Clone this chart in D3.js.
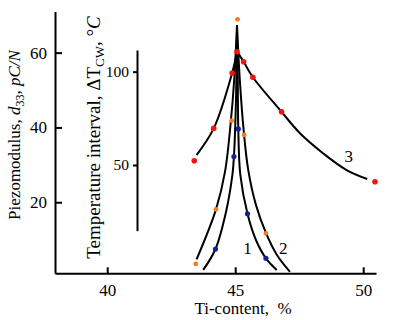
<!DOCTYPE html>
<html>
<head>
<meta charset="utf-8">
<script src="https://cdn.jsdelivr.net/npm/d3@7"></script>
<style>
  body { margin: 0; background: #fff; }
  text { font-family: "Liberation Serif", "Times New Roman", serif; fill: #000; }
</style>
</head>
<body>
<div id="chart"></div>
<script>
// tick values
const xTicks = [40, 45, 50];
const d33Ticks = [20, 40, 60];
const dtTicks = [50, 100];

// measured points (Ti %, value)
const orangeTi = [43.46, 44.25, 44.86, 45.09, 45.35, 46.20];
const orangeD33 = [3.5, 18.1, 41.8, 68.9, 38.0, 11.7];
const blueTi = [44.23, 44.95, 45.12, 45.48, 46.20];
const blueD33 = [7.5, 32.2, 39.6, 16.9, 5.0];
const redTi = [43.40, 44.16, 44.88, 45.07, 45.33, 45.69, 46.81, 50.46];
const redDT = [52.3, 69.6, 99.3, 110.7, 105.3, 97.0, 78.5, 41.0];

// fitted curves, left and right branch each (Ti %, value)
const curve1Left = [[43.75, 1.9], [44.23, 7.5], [44.64, 17.4], [44.89, 27.3], [44.95, 32.2], [45.03, 47.3], [45.07, 66.6]];
const curve1Right = [[45.07, 66.6], [45.10, 52.7], [45.12, 39.6], [45.20, 27.3], [45.48, 16.9], [45.81, 9.9], [46.20, 5.0], [46.62, 1.9]];
const curve2Left = [[43.49, 4.7], [44.25, 18.1], [44.60, 28.1], [44.83, 41.7], [44.96, 52.7], [45.07, 67.4]];
const curve2Right = [[45.07, 67.4], [45.18, 52.7], [45.34, 38.5], [45.51, 28.6], [45.81, 19.3], [46.20, 11.8], [46.63, 5.9], [47.14, 1.4]];
const curve3Left = [[43.49, 55.3], [44.16, 69.6], [44.88, 99.3], [45.07, 110.7]];
const curve3Right = [[45.07, 110.7], [45.33, 105.3], [45.69, 97.0], [46.81, 78.5], [47.53, 67.0], [48.44, 56.2], [49.35, 47.3], [50.16, 42.5]];

const curveLabels = [["1", 45.48, 6.2], ["2", 46.88, 6.2], ["3", 49.44, 51.6]];

const width = 396, height = 320;

const svg = d3.select("#chart")
  .append("svg")
  .attr("width", width)
  .attr("height", height);

const x = d3.scaleLinear().domain([37.96, 50.5]).range([55, 376]);
const yL = d3.scaleLinear().domain([1, 71]).range([273.3, 11.5]);
const yR = d3.scaleLinear().domain([14.8, 111.6]).range([230.7, 50]);

// axes
const xAxis = svg.append("g")
  .attr("transform", `translate(0,${yL(1)})`)
  .call(d3.axisBottom(x).tickValues(xTicks).tickSize(-6).tickSizeOuter(0).tickPadding(11));

const leftAxis = svg.append("g")
  .attr("transform", `translate(${x(37.96)},0)`)
  .call(d3.axisLeft(yL).tickValues(d33Ticks).tickSize(-7).tickSizeOuter(0).tickPadding(8));

const rightAxis = svg.append("g")
  .attr("transform", "translate(137,0)")
  .call(d3.axisLeft(yR).tickValues(dtTicks).tickSize(4).tickSizeOuter(0).tickPadding(4));

[xAxis, leftAxis, rightAxis].forEach(g => {
  g.select(".domain").attr("stroke", "#000").attr("stroke-width", 2);
  g.selectAll(".tick line").attr("stroke", "#000").attr("stroke-width", 2);
  g.selectAll(".tick text").attr("font-family", "Liberation Serif").attr("fill", "#000");
});
xAxis.selectAll(".tick text").attr("font-size", 17);
leftAxis.selectAll(".tick text").attr("font-size", 17);
rightAxis.selectAll(".tick text").attr("font-size", 15.5);

// axis titles
svg.append("text")
  .attr("x", 243)
  .attr("y", 314)
  .attr("text-anchor", "middle")
  .attr("font-size", 17)
  .style("white-space", "pre")
  .text("Ti-content,  %");

const leftTitle = svg.append("text")
  .attr("transform", "translate(20,135) rotate(-90)")
  .attr("text-anchor", "middle")
  .attr("font-size", 17);
leftTitle.append("tspan").text("Piezomodulus, ");
leftTitle.append("tspan").attr("font-style", "italic").text("d");
leftTitle.append("tspan").attr("font-size", 12).attr("dy", 4).text("33");
leftTitle.append("tspan").attr("dy", -4).text(", ");
leftTitle.append("tspan").attr("font-style", "italic").text("pC/N");

const rightTitle = svg.append("text")
  .attr("transform", "translate(100,137.5) rotate(-90)")
  .attr("text-anchor", "middle")
  .attr("font-size", 19);
rightTitle.append("tspan").text("Temperature interval, ΔT");
rightTitle.append("tspan").attr("font-size", 13).attr("dy", 4).text("CW");
rightTitle.append("tspan").attr("dy", -4).text(", °");
rightTitle.append("tspan").attr("font-style", "italic").text("C");

// curves
const lineL = d3.line().x(d => x(d[0])).y(d => yL(d[1])).curve(d3.curveCatmullRom.alpha(0.5));
const lineR = d3.line().x(d => x(d[0])).y(d => yR(d[1])).curve(d3.curveCatmullRom.alpha(0.5));

[curve1Left, curve1Right, curve2Left, curve2Right].forEach(c => {
  svg.append("path").attr("d", lineL(c)).attr("fill", "none").attr("stroke", "#000").attr("stroke-width", 2);
});
[curve3Left, curve3Right].forEach(c => {
  svg.append("path").attr("d", lineR(c)).attr("fill", "none").attr("stroke", "#000").attr("stroke-width", 2);
});

// points
svg.selectAll(".orange")
  .data(orangeTi)
  .enter()
  .append("circle")
  .attr("cx", d => x(d))
  .attr("cy", (d, i) => yL(orangeD33[i]))
  .attr("r", 2.4)
  .attr("fill", "#f47b20");

svg.selectAll(".blue")
  .data(blueTi)
  .enter()
  .append("circle")
  .attr("cx", d => x(d))
  .attr("cy", (d, i) => yL(blueD33[i]))
  .attr("r", 2.6)
  .attr("fill", "#14209a");

svg.selectAll(".red")
  .data(redTi)
  .enter()
  .append("circle")
  .attr("cx", d => x(d))
  .attr("cy", (d, i) => yR(redDT[i]))
  .attr("r", 2.8)
  .attr("fill", "#f01414");

// curve numbers
svg.selectAll(".clabel")
  .data(curveLabels)
  .enter()
  .append("text")
  .attr("x", d => x(d[1]))
  .attr("y", (d, i) => i < 2 ? yL(d[2]) : yR(d[2]))
  .attr("text-anchor", "middle")
  .attr("font-size", 17)
  .text(d => d[0]);
</script>
</body>
</html>
